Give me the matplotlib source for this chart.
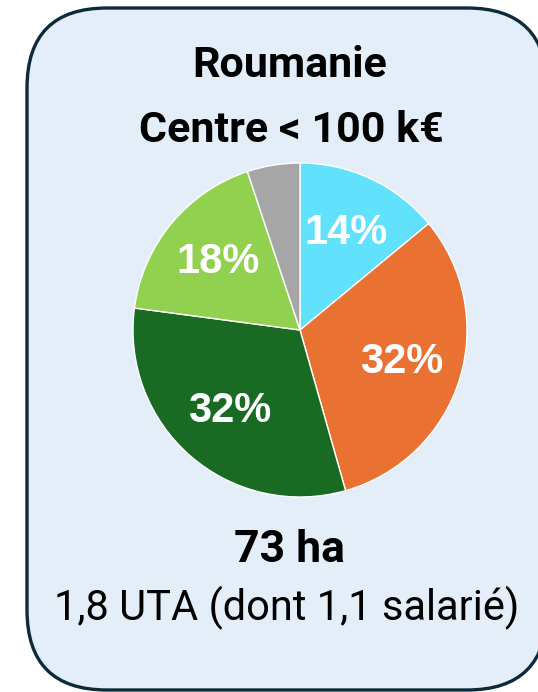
import matplotlib
matplotlib.use("Agg")
from matplotlib import pyplot as plt
from matplotlib.patches import FancyBboxPatch

# pie data, clockwise from the top
shares = [14.0, 31.6, 31.5, 17.8, 5.1]
labels = ["14%", "32%", "32%", "18%", ""]
colors = ["#61e1fb", "#e97132", "#196b24", "#92d050", "#a6a6a6"]

title_lines = ["Roumanie", "Centre < 100 k€"]
area = "73 ha"
labour = "1,8 UTA (dont 1,1 salarié)"

plt.rcParams['font.family'] = ['Roboto', 'DejaVu Sans']

W, H = 538, 692
fig = plt.figure(figsize=(W / 100, H / 100), dpi=100)

# background axes in pixel coords for the rounded box and the texts
bg = fig.add_axes([0, 0, 1, 1])
bg.set_xlim(0, W)
bg.set_ylim(H, 0)
bg.axis("off")

box = FancyBboxPatch((27, 8), 520, 682, boxstyle="round,pad=0,rounding_size=80",
                     facecolor="#e3eef9", edgecolor="#0e2a3a", linewidth=2.4)
bg.add_patch(box)

bg.text(290, 77, title_lines[0], ha="center", va="baseline", fontsize=31, fontweight="bold")
bg.text(291, 142, title_lines[1], ha="center", va="baseline", fontsize=31, fontweight="bold")
bg.text(289, 562, area, ha="center", va="baseline", fontsize=32, fontweight="bold")
bg.text(287, 620, labour, ha="center", va="baseline", fontsize=30)

# pie axes: centre (300,330), radius 167 px
cx, cy, r = 300, 330, 167
ax = fig.add_axes([(cx - r) / W, (H - cy - r) / H, 2 * r / W, 2 * r / H])
wedges, texts = ax.pie(shares, labels=labels, colors=colors, startangle=90,
                       counterclock=False, labeldistance=0.64,
                       wedgeprops=dict(edgecolor="white", linewidth=1))
for t in texts:
    t.set_color("white")
    t.set_fontsize(30)
    t.set_fontweight("bold")
    t.set_family(["Liberation Sans", "DejaVu Sans"])
    t.set_ha("center")
    t.set_va("center")
ax.set_xlim(-1, 1)
ax.set_ylim(-1, 1)
ax.axis("off")

fig.savefig("out.png", dpi=100)
